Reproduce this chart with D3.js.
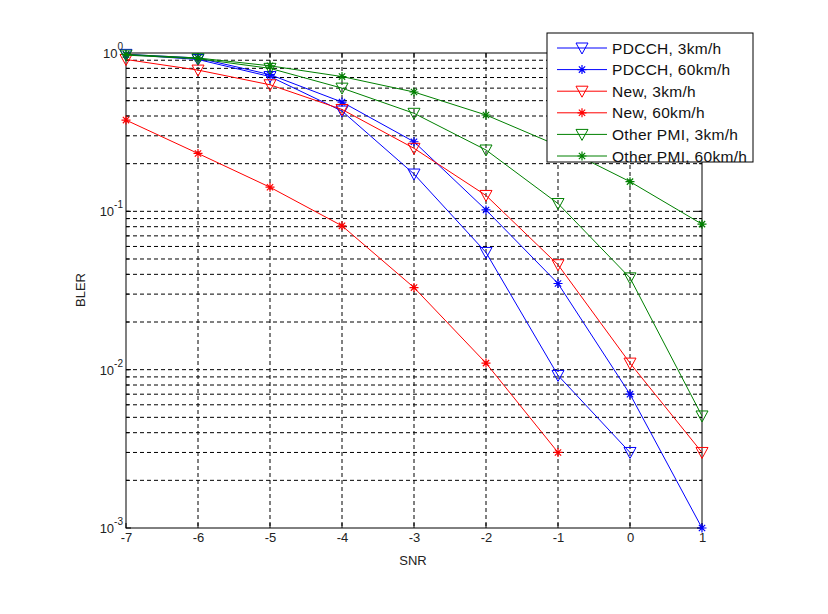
<!DOCTYPE html>
<html><head><meta charset="utf-8">
<script src="https://cdn.jsdelivr.net/npm/d3@7"></script>
<style>body{margin:0;background:#fff}svg{display:block}text{font-family:"Liberation Sans",Arial,sans-serif}</style>
</head><body><svg id="c" width="828" height="614"></svg>
<script>
const snr = [-7, -6, -5, -4, -3, -2, -1, 0, 1];
const xTicks = [-7, -6, -5, -4, -3, -2, -1, 0, 1];
const yTickExps = [0, -1, -2, -3];
const pdcch3 = [0.98, 0.91, 0.71, 0.43, 0.172, 0.055, 0.0092, 0.003];
const pdcch60 = [0.98, 0.93, 0.73, 0.49, 0.275, 0.102, 0.035, 0.0070, 0.001];
const new3 = [0.91, 0.78, 0.63, 0.44, 0.25, 0.126, 0.046, 0.011, 0.003];
const new60 = [0.377, 0.232, 0.142, 0.081, 0.033, 0.011, 0.003];
const other3 = [0.97, 0.92, 0.80, 0.60, 0.416, 0.244, 0.112, 0.038, 0.0051];
const other60 = [0.98, 0.93, 0.83, 0.71, 0.567, 0.406, 0.26, 0.154, 0.083];
const seriesNames = ["PDCCH, 3km/h", "PDCCH, 60km/h", "New, 3km/h", "New, 60km/h", "Other PMI, 3km/h", "Other PMI, 60km/h"];
const seriesVals = [pdcch3, pdcch60, new3, new60, other3, other60];
const seriesColors = ["#0000ff", "#0000ff", "#ff0000", "#ff0000", "#008000", "#008000"];
const seriesMarkers = ["tri", "star", "tri", "star", "tri", "star"];

const L = 126, R = 702, T = 53, B = 528;
const svg = d3.select("#c");
const x = d3.scaleLinear().domain([-7, 1]).range([L, R]);
const y = d3.scaleLog().domain([1e-3, 1]).range([B, T]);

// grid
const g = svg.append("g");
const minorVals = [];
for (let e = -3; e < 0; e++) for (let m = 1; m <= 9; m++) minorVals.push(m * Math.pow(10, e));
minorVals.forEach(v => {
  if (v <= 1e-3) return;
  g.append("line").attr("x1", L).attr("x2", R).attr("y1", y(v)).attr("y2", y(v))
    .attr("stroke", "#000").attr("stroke-width", 1).attr("stroke-dasharray", "4,3");
});
xTicks.forEach(v => {
  if (v === -7 || v === 1) return;
  g.append("line").attr("x1", x(v)).attr("x2", x(v)).attr("y1", T).attr("y2", B)
    .attr("stroke", "#000").attr("stroke-width", 1).attr("stroke-dasharray", "4,3");
});

// axes box
svg.append("rect").attr("x", L).attr("y", T).attr("width", R - L).attr("height", B - T)
  .attr("fill", "none").attr("stroke", "#000").attr("stroke-width", 1);

// x ticks
const xa = d3.axisBottom(x).tickValues(xTicks).tickSize(0).tickPadding(5).tickFormat(d => String(d));
const xg = svg.append("g").attr("transform", `translate(0,${B})`).call(xa);
xg.select(".domain").remove();
xg.selectAll("text").attr("font-size", 13).attr("fill", "#222").attr("font-family", "Liberation Sans, Arial, sans-serif");
xTicks.forEach(v => {
  svg.append("line").attr("x1", x(v)).attr("x2", x(v)).attr("y1", B).attr("y2", B - 5).attr("stroke", "#000");
  svg.append("line").attr("x1", x(v)).attr("x2", x(v)).attr("y1", T).attr("y2", T + 5).attr("stroke", "#000");
});
// y ticks
yTickExps.forEach(e => {
  const yy = y(Math.pow(10, e));
  svg.append("line").attr("x1", L).attr("x2", L + 5).attr("y1", yy).attr("y2", yy).attr("stroke", "#000");
  svg.append("line").attr("x1", R).attr("x2", R - 5).attr("y1", yy).attr("y2", yy).attr("stroke", "#000");
  const t = svg.append("text").attr("x", 123).attr("y", yy + 5).attr("text-anchor", "end")
    .attr("font-size", 13).attr("fill", "#222");
  t.append("tspan").text("10");
  t.append("tspan").attr("dy", -8).attr("font-size", 10).text(String(e));
});
minorVals.forEach(v => {
  if (v <= 1e-3) return;
  svg.append("line").attr("x1", L).attr("x2", L + 3).attr("y1", y(v)).attr("y2", y(v)).attr("stroke", "#000");
  svg.append("line").attr("x1", R).attr("x2", R - 3).attr("y1", y(v)).attr("y2", y(v)).attr("stroke", "#000");
});

// labels
svg.append("text").attr("x", 413).attr("y", 565).attr("text-anchor", "middle").attr("font-size", 13).attr("fill", "#222").text("SNR");
svg.append("text").attr("transform", "translate(85,290) rotate(-90)").attr("text-anchor", "middle").attr("font-size", 13).attr("fill", "#222").text("BLER");

function marker(sel, type, cx, cy, color) {
  if (type === "tri") {
    sel.append("path").attr("d", `M${cx - 6},${cy - 5}L${cx + 6},${cy - 5}L${cx},${cy + 6}Z`)
      .attr("fill", "none").attr("stroke", color).attr("stroke-width", 1);
  } else {
    const s = 4.5;
    const p = `M${cx - s},${cy}L${cx + s},${cy}M${cx},${cy - s}L${cx},${cy + s}M${cx - s * 0.7},${cy - s * 0.7}L${cx + s * 0.7},${cy + s * 0.7}M${cx - s * 0.7},${cy + s * 0.7}L${cx + s * 0.7},${cy - s * 0.7}`;
    sel.append("path").attr("d", p).attr("stroke", color).attr("stroke-width", 1.2).attr("fill", "none");
  }
}

const line = d3.line().x((d, i) => x(snr[i])).y(d => y(d));
const plot = svg.append("g");
seriesVals.forEach((vals, k) => {
  plot.append("path").attr("d", line(vals)).attr("fill", "none").attr("stroke", seriesColors[k]).attr("stroke-width", 1);
  vals.forEach((v, i) => marker(plot, seriesMarkers[k], x(snr[i]), y(v), seriesColors[k]));
});

// legend
const lg = svg.append("g");
lg.append("rect").attr("x", 547).attr("y", 33).attr("width", 206).attr("height", 129)
  .attr("fill", "#fff").attr("stroke", "#000").attr("stroke-width", 1);
seriesNames.forEach((n, k) => {
  const yy = 48 + k * 21.6;
  lg.append("line").attr("x1", 557).attr("x2", 607).attr("y1", yy).attr("y2", yy).attr("stroke", seriesColors[k]).attr("stroke-width", 1);
  marker(lg, seriesMarkers[k], 582, yy, seriesColors[k]);
  lg.append("text").attr("x", 612).attr("y", yy + 5.5).attr("font-size", 15.5).attr("letter-spacing", 0.3).attr("fill", "#111").text(n);
});
</script></body></html>
